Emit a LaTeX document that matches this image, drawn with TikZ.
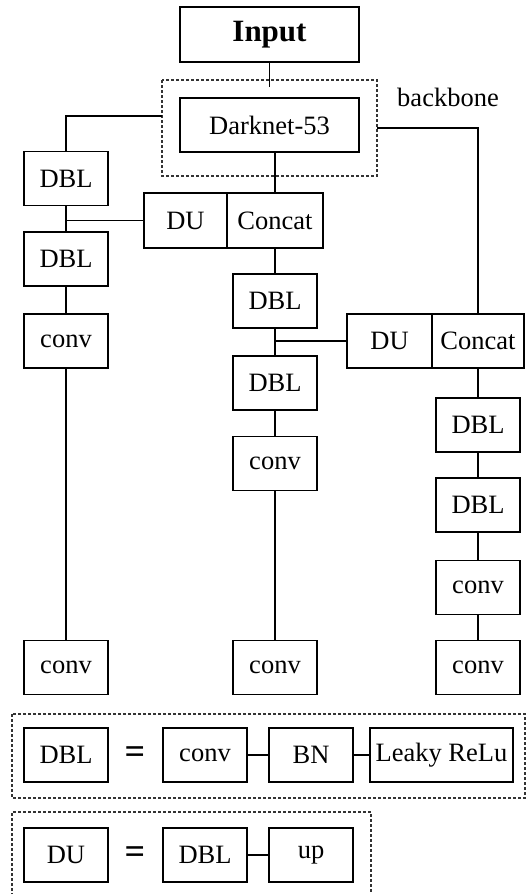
\documentclass[tikz,border=0pt]{standalone}
\usepackage{fontspec}
\setmainfont{Liberation Serif}
\begin{document}
\begin{tikzpicture}[x=1pt,y=-1pt,
  box/.style={draw, line width=1.7pt, inner sep=0pt, minimum width=84pt, minimum height=54pt, font=\fontsize{26.5}{32}\selectfont},
  conn/.style={line width=1.7pt},
  dashbox/.style={draw=black!80, line width=1.3pt, dash pattern=on 3pt off 2pt},
  eqs/.style={font=\fontsize{36}{40}\selectfont\bfseries, inner sep=0pt}]
\useasboundingbox (0,0) rectangle (527,894);
% backbone
\draw[dashbox] (162,80) rectangle (377,176);
\node[font=\fontsize{26.5}{32}\selectfont, inner sep=0pt] (bbtext) at (448,97) {backbone};
\node[box, minimum width=179pt, minimum height=55pt, font=\fontsize{31}{36}\selectfont\bfseries] (input) at (269.5,34.5) {Input};
\node[box, minimum width=179pt] (dark) at (269.5,125) {Darknet-53};
\coordinate (bbtop) at (269.5,87);
\coordinate (bbL) at (162,116);
\coordinate (bbR) at (377,128);
% left column
\node[box] (dbl1) at (66,178.5) {DBL};
\node[box] (dbl2) at (66,259) {DBL};
\node[box] (conv1) at (66,341) {conv};
\node[box] (convBL) at (66,667.5) {conv};
% middle column
\node[box, minimum width=83pt, minimum height=55pt] (du1) at (185.5,220.5) {DU};
\node[box, minimum width=96pt, minimum height=55pt] (cat1) at (275,220.5) {Concat};
\node[box] (dbl3) at (275,301) {DBL};
\node[box] (dbl4) at (275,383) {DBL};
\node[box] (convM) at (275,463.5) {conv};
\node[box] (convBM) at (275,667.5) {conv};
% right column
\node[box, minimum width=85pt] (du2) at (389.5,341) {DU};
\node[box, minimum width=92pt] (cat2) at (478,341) {Concat};
\node[box] (dbl5) at (478,425) {DBL};
\node[box] (dbl6) at (478,505) {DBL};
\node[box] (convR) at (478,587.5) {conv};
\node[box] (convBR) at (478,667.5) {conv};
% connectors
\draw[conn] (input.south) -- (bbtop);
\draw[conn] (bbL) -| (dbl1.north);
\draw[conn] (bbR) -| (cat2.north);
\draw[conn] (cat1.north |- dark.south) -- (cat1.north);
\draw[conn] (dbl1.south) -- (dbl2.north);
\coordinate (j1) at (66,220.5);
\draw[conn] (j1) -- (du1.west);
\draw[conn] (dbl2.south) -- (conv1.north);
\draw[conn] (conv1.south) -- (convBL.north);
\draw[conn] (cat1.south) -- (dbl3.north);
\draw[conn] (dbl3.south) -- (dbl4.north);
\coordinate (j2) at (275,341);
\draw[conn] (j2) -- (du2.west);
\draw[conn] (dbl4.south) -- (convM.north);
\draw[conn] (convM.south) -- (convBM.north);
\draw[conn] (cat2.south) -- (dbl5.north);
\draw[conn] (dbl5.south) -- (dbl6.north);
\draw[conn] (dbl6.south) -- (convR.north);
\draw[conn] (convR.south) -- (convBR.north);
% legend DBL
\draw[dashbox] (12,714) rectangle (525,798);
\node[box] (ldbl) at (66,755) {DBL};
\node[eqs] (eq1) at (135,755) {=};
\node[box] (lconv) at (205,755) {conv};
\node[box] (lbn) at (311,755) {BN};
\node[box, minimum width=143pt] (lrelu) at (441.5,755) {Leaky ReLu};
\draw[conn] (lconv.east) -- (lbn.west);
\draw[conn] (lbn.east) -- (lrelu.west);
% legend DU
\draw[dashbox] (12,896) -- (12,812) -- (371,812) -- (371,896);
\node[box] (ldu) at (66,855) {DU};
\node[eqs] (eq2) at (135,855) {=};
\node[box] (ldbl2) at (205,855) {DBL};
\node[box] (lup) at (311,855) {up};
\draw[conn] (ldbl2.east) -- (lup.west);
\end{tikzpicture}
\end{document}
